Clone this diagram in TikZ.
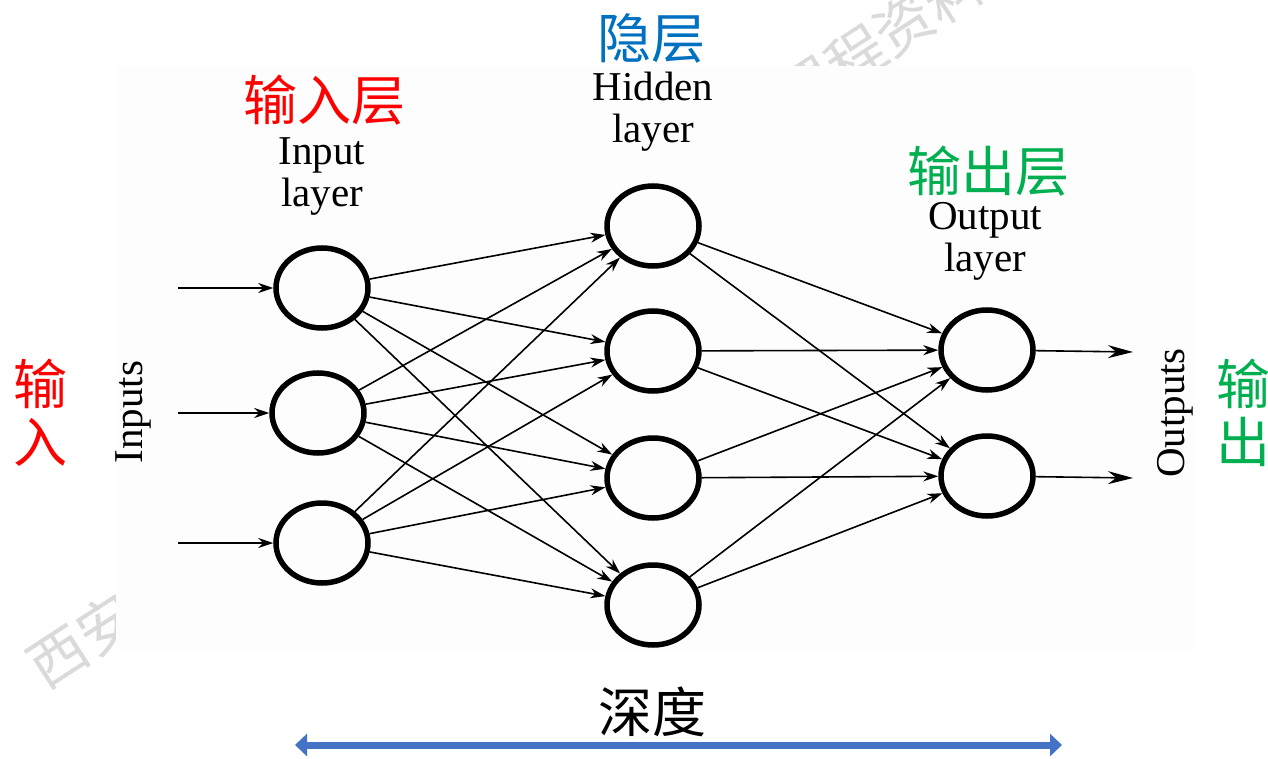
\documentclass[tikz,border=0pt]{standalone}
\usepackage{fontspec}
\setmainfont{Liberation Serif}
\newfontfamily\cjk{Noto Sans CJK SC}
\usetikzlibrary{shapes.geometric,arrows.meta}
\definecolor{inred}{HTML}{FF0000}
\definecolor{hidblue}{HTML}{0070C0}
\definecolor{outgreen}{HTML}{00B050}
\definecolor{depthblue}{HTML}{4472C4}
\definecolor{panel}{HTML}{FDFDFD}
\definecolor{mark}{HTML}{DADADA}

\begin{document}
\begin{tikzpicture}[x=1pt,y=-1pt,
  neuron/.style={ellipse, draw, line width=5.5pt, minimum width=92pt, minimum height=80pt, inner sep=0pt},
  link/.style={line width=1.6pt, -{Stealth[length=15pt,width=10pt]}},
  outlink/.style={line width=1.6pt, -{Stealth[length=25pt,width=13pt]}},
  en/.style={font=\fontsize{41}{42}\selectfont, align=center, inner sep=0pt},
  zh/.style={font=\cjk\fontsize{54}{56}\selectfont, inner sep=0pt},
  wm/.style={font=\cjk\fontsize{58}{58}\selectfont, text=mark, rotate=33}
]
\useasboundingbox (0,0) rectangle (1268,759);
\fill[white] (0,0) rectangle (1268,759);

% faint background marks, partly hidden by the figure panel
\node[wm] (wm1) at (82,640) {西安};
\node[wm] (wm2) at (880,40) {课程资料};
\fill[panel] (116,66) rectangle (1194,650);

% neurons
\node[neuron] (i1) at (322,288) {};
\node[neuron] (i2) at (318,413) {};
\node[neuron] (i3) at (322,543) {};
\node[neuron] (h1) at (653,226) {};
\node[neuron] (h2) at (653,351) {};
\node[neuron] (h3) at (653,478) {};
\node[neuron] (h4) at (653,605) {};
\node[neuron] (o1) at (987,350) {};
\node[neuron] (o2) at (987,476) {};

% free ends of the input and output arrows
\coordinate (a1) at (178,288);
\coordinate (a2) at (178,413);
\coordinate (a3) at (178,543);
\coordinate (b1) at (1133,352);
\coordinate (b2) at (1133,478);

\foreach \k in {1,2,3} \draw[link] (a\k) -- (i\k);
\foreach \i in {1,2,3} \foreach \h in {1,2,3,4} \draw[link] (i\i) -- (h\h);
\foreach \h in {1,2,3,4} \foreach \o in {1,2} \draw[link] (h\h) -- (o\o);
\draw[outlink] (o1) -- (b1);
\draw[outlink] (o2) -- (b2);

% layer captions
\node[en] (lin) at (322,177) {Input\\layer};
\node[en] (lhid) at (653,112) {Hidden\\layer};
\node[en] (lout) at (985,241) {Output\\layer};
\node[en, rotate=90] (lins) at (133,412) {Inputs};
\node[en, rotate=90] (louts) at (1175,413) {Outputs};

% Chinese captions
\node[zh, text=inred] (zin) at (324,100) {输入层};
\node[zh, text=hidblue] (zhid) at (651,38) {隐层};
\node[zh, text=outgreen] (zout) at (988,171) {输出层};
\node[zh, text=inred, align=center] (zinputs) at (40,413) {输\\[2pt]入};
\node[zh, text=outgreen, align=center] (zoutputs) at (1243,413) {输\\[2pt]出};
\node[zh] (zdepth) at (652,712) {深度};

% depth arrow
\coordinate (d1) at (295,745);
\coordinate (d2) at (1062,745);
\draw[depthblue, line width=7pt, {Triangle[length=12pt,width=22pt]}-{Triangle[length=12pt,width=22pt]}] (d1) -- (d2);
\end{tikzpicture}
\end{document}
